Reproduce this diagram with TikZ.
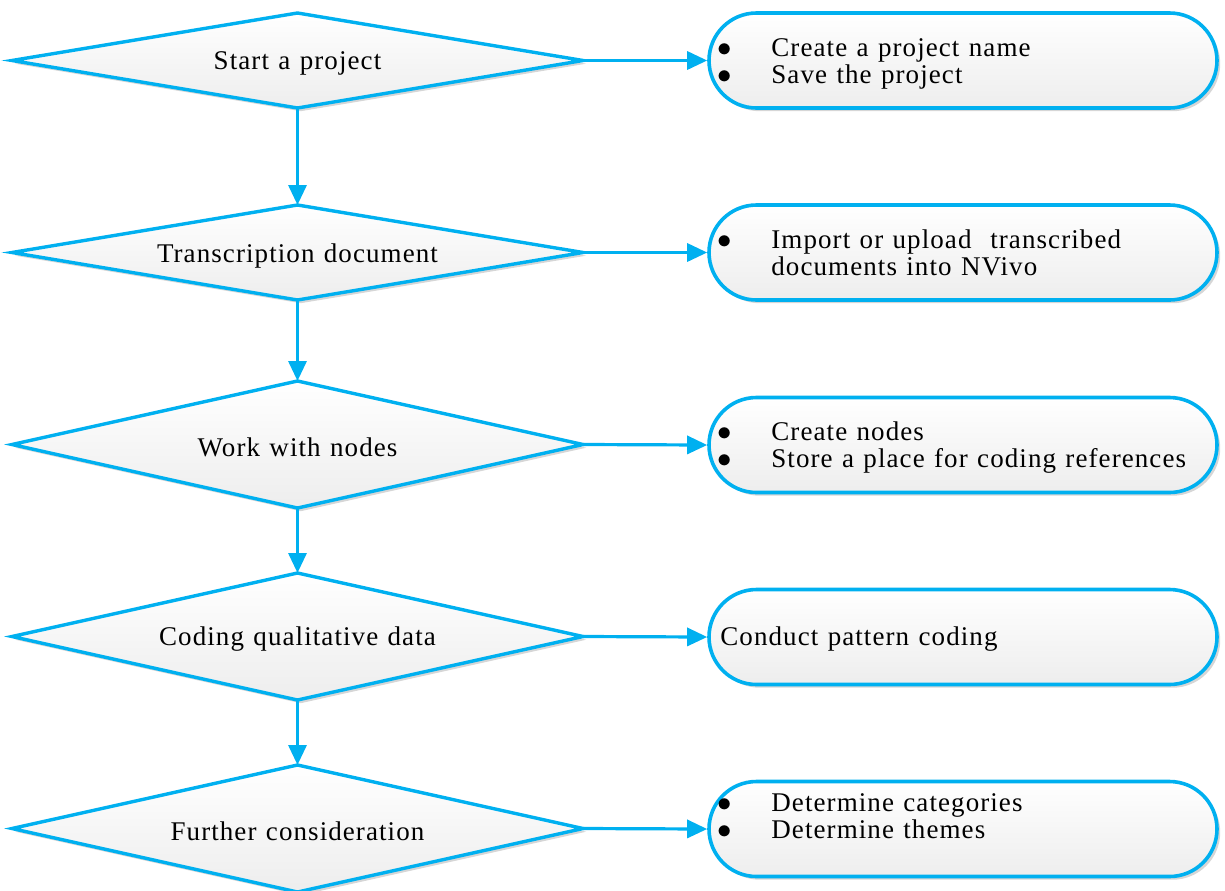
\documentclass[tikz,border=0pt]{standalone}
\usepackage{fontspec}
\setmainfont{Liberation Serif}[LetterSpace=4,WordSpace=1.2]
\usetikzlibrary{arrows.meta,shadows}
\definecolor{flowblue}{RGB}{0,176,240}

% A decision diamond: name, centre x, centre y, half width, half height, text.
% Corner coordinates are named <name>-n, <name>-e, <name>-s, <name>-w.
\newcommand\flowdiamond[6]{%
  \coordinate (#1-n) at (#2,#3-#5);
  \coordinate (#1-s) at (#2,#3+#5);
  \coordinate (#1-e) at (#2+#4,#3);
  \coordinate (#1-w) at (#2-#4,#3);
  \path[decision] (#1-n) -- (#1-e) -- (#1-s) -- (#1-w) -- cycle;
  \node[steplabel] (#1) at (#2,#3) {#6};
}
\newcommand\listbullet{\hspace{2pt}$\bullet$}

\begin{document}
\begin{tikzpicture}[x=0.5pt,y=-0.5pt,
  every node/.style={font=\fontsize{13.5}{13.5}\selectfont},
  softshadow/.style={drop shadow={shadow xshift=1.6pt,shadow yshift=-1.6pt,opacity=0.16,fill=black}},
  decision/.style={draw=flowblue,line width=1.7pt,line join=miter,top color=white,bottom color=gray!14,softshadow},
  steplabel/.style={inner sep=0pt,yshift=-1.5pt},
  task/.style={rectangle,rounded corners=23.75pt,draw=flowblue,line width=1.8pt,top color=white,
    bottom color=gray!14,minimum width=254pt,minimum height=47.5pt,inner sep=0pt,softshadow},
  listtext/.style={inner sep=0pt,anchor=base west},
  flow/.style={draw=flowblue,line width=1.6pt,-{Triangle[length=10pt,width=9pt]}}]

\fill[white] (0,0) rectangle (1225,890);
\useasboundingbox (0,0) rectangle (1225,890);

% process steps (left column)
\flowdiamond{d1}{297.5}{60.5}{285.5}{47.5}{Start a project}
\flowdiamond{d2}{297.5}{252.5}{285.5}{47.5}{Transcription document}
\flowdiamond{d3}{297.5}{444.5}{285.5}{63.5}{Work with nodes}
\flowdiamond{d4}{297.5}{636.5}{285.5}{63.5}{Coding qualitative data}
\flowdiamond{d5}{297.5}{828.5}{285.5}{63.5}{Further consideration}

% actions (right column)
\node[task] (b1) at (963,60.5) {};
\node[task] (b2) at (963,252.5) {};
\node[task] (b3) at (963,445) {};
\node[task] (b4) at (963,637) {};
\node[task] (b5) at (963,829) {};

\node[listtext] (t1) at (713,56) {\begin{tabular}[t]{@{}p{29pt}@{}l@{}}\listbullet & Create a project name\\ \listbullet & Save the project\end{tabular}};
\node[listtext] (t2) at (713,248) {\begin{tabular}[t]{@{}p{29pt}@{}l@{}}\listbullet & Import or upload~ transcribed\\ & documents into NVivo\end{tabular}};
\node[listtext] (t3) at (713,440) {\begin{tabular}[t]{@{}p{29pt}@{}l@{}}\listbullet & Create nodes\\ \listbullet & Store a place for coding references\end{tabular}};
\node[listtext] (t4) at (720,645) {Conduct pattern coding};
\node[listtext] (t5) at (713,811) {\begin{tabular}[t]{@{}p{29pt}@{}l@{}}\listbullet & Determine categories\\ \listbullet & Determine themes\end{tabular}};

% connectors
\draw[flow] (d1-s) -- (d2-n);
\draw[flow] (d2-s) -- (d3-n);
\draw[flow] (d3-s) -- (d4-n);
\draw[flow] (d4-s) -- (d5-n);
\draw[flow] (d1-e) -- (b1.west);
\draw[flow] (d2-e) -- (b2.west);
\draw[flow] (d3-e) -- (b3.west);
\draw[flow] (d4-e) -- (b4.west);
\draw[flow] (d5-e) -- (b5.west);
\end{tikzpicture}
\end{document}
